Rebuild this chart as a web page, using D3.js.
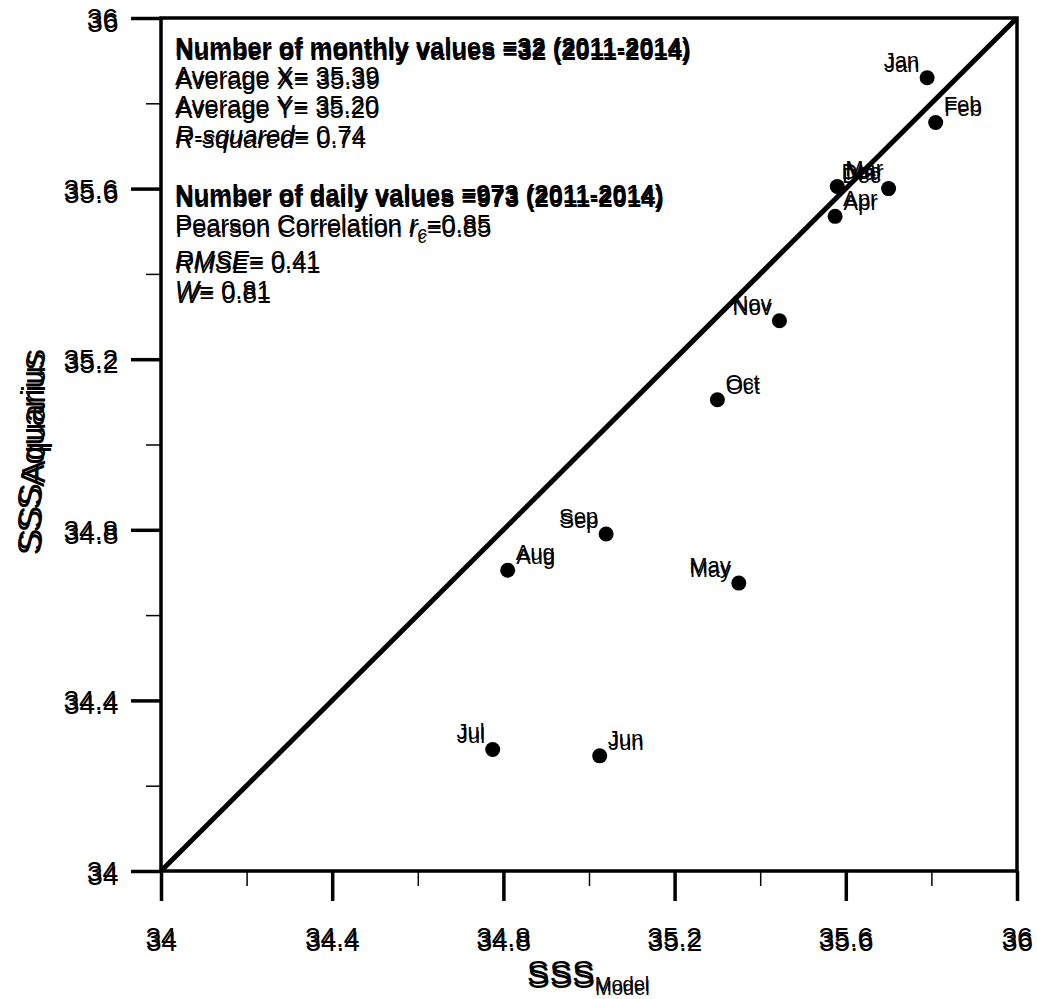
<!DOCTYPE html>
<html><head><meta charset="utf-8">
<script src="https://cdn.jsdelivr.net/npm/d3@7"></script>
<style>
html,body{margin:0;padding:0;background:#fff;}
svg text{font-family:"Liberation Sans",Arial,sans-serif;fill:#000;}
</style></head>
<body>
<svg id="chart" width="1037" height="999"></svg>
<script>
// ---- data ----
const months = ["Jan","Feb","Mar","Apr","May","Jun","Jul","Aug","Sep","Oct","Nov","Dec"];
const sssModel = [35.79, 35.81, 35.58, 35.575, 35.35, 35.025, 34.775, 34.81, 35.04, 35.30, 35.445, 35.70];
const sssAquarius = [35.86, 35.755, 35.605, 35.535, 34.675, 34.27, 34.285, 34.705, 34.79, 35.105, 35.29, 35.60];
const labelAnchor = ["end","start","start","start","end","start","end","start","end","start","end","end"];
const majorTicks = [34, 34.4, 34.8, 35.2, 35.6, 36];
const minorTicks = [34.2, 34.6, 35.0, 35.4, 35.8];
const tickLabels = ["34","34.4","34.8","35.2","35.6","36"];
const statsMonthly = {n:32, period:"2011-2014", avgX:"35.39", avgY:"35.20", r2:"0.74"};
const statsDaily = {n:973, period:"2011-2014", rc:"0.85", rmse:"0.41", w:"0.81"};

const svg = d3.select("#chart");
const L=161, R=1017, T=18, B=871;
const x = d3.scaleLinear().domain([34,36]).range([L,R]);
const y = d3.scaleLinear().domain([34,36]).range([B,T]);

// the reference shows every text drawn twice, slightly offset
function dtext(g, px, py, build, opts={}) {
  const d1 = opts.d1 ?? [0,-2], d2 = opts.d2 ?? [0.5,2];
  [d1,d2].forEach(([ox,oy])=>{
    const t = g.append("text").attr("x",px+ox).attr("y",py+oy);
    if (opts.anchor) t.attr("text-anchor",opts.anchor);
    if (opts.size) t.attr("font-size",opts.size);
    if (opts.weight) t.attr("font-weight",opts.weight);
    if (opts.transform) t.attr("transform",opts.transform);
    build(t);
  });
}

// diagonal 1:1 line
svg.append("line").attr("x1",x(34)).attr("y1",y(34)).attr("x2",x(36)).attr("y2",y(36))
  .attr("stroke","#000").attr("stroke-width",5);

// frame
svg.append("rect").attr("x",L).attr("y",T).attr("width",R-L).attr("height",B-T)
  .attr("fill","none").attr("stroke","#000").attr("stroke-width",3.5);

// axes
const xMaj = svg.append("g").attr("transform",`translate(0,${B})`)
  .call(d3.axisBottom(x).tickValues(majorTicks).tickSize(30).tickFormat(""));
const xMin = svg.append("g").attr("transform",`translate(0,${B})`)
  .call(d3.axisBottom(x).tickValues(minorTicks).tickSize(15).tickFormat(""));
const yMaj = svg.append("g").attr("transform",`translate(${L},0)`)
  .call(d3.axisLeft(y).tickValues(majorTicks).tickSize(30).tickFormat(""));
const yMin = svg.append("g").attr("transform",`translate(${L},0)`)
  .call(d3.axisLeft(y).tickValues(minorTicks).tickSize(15).tickFormat(""));
[xMaj,yMaj].forEach(g=>{g.select(".domain").remove(); g.selectAll(".tick line").attr("stroke","#000").attr("stroke-width",3.5);});
[xMin,yMin].forEach(g=>{g.select(".domain").remove(); g.selectAll(".tick line").attr("stroke","#000").attr("stroke-width",1.5);});

// tick labels
const lab = svg.append("g");
majorTicks.forEach((v,i)=>{
  dtext(lab, x(v), 949, t=>t.text(tickLabels[i]), {anchor:"middle", size:28});
  dtext(lab, 118, y(v)+12, t=>t.text(tickLabels[i]), {anchor:"end", size:28});
});

// axis titles
dtext(svg, 588, 986, t=>{
  t.append("tspan").attr("font-size",34).text("SSS");
  t.append("tspan").attr("font-size",20).attr("dy",7).text("Model");
}, {anchor:"middle"});
dtext(svg, 0, 0, t=>{
  t.append("tspan").attr("font-size",34).text("SSS");
  t.append("tspan").attr("font-size",34).attr("dy",3).text("Aquarius");
}, {anchor:"middle", d1:[-2,0], d2:[2,0.5], transform:"translate(41,452) rotate(-90)"});

// points
const pts = svg.append("g");
months.forEach((m,i)=>{
  pts.append("circle").attr("cx",x(sssModel[i])).attr("cy",y(sssAquarius[i])).attr("r",7.5).attr("fill","#000");
  const a = labelAnchor[i];
  const off = a==="end" ? -8 : 8;
  dtext(pts, x(sssModel[i])+off, y(sssAquarius[i])-8, t=>t.text(m), {anchor:a, size:22});
});

// statistics text
const st = svg.append("g");
const sx = 175, fs = 25.5;
dtext(st, sx, 58, t=>t.text(`Number of monthly values =${statsMonthly.n} (${statsMonthly.period})`), {size:fs, weight:"bold"});
dtext(st, sx, 87, t=>t.text(`Average X= ${statsMonthly.avgX}`), {size:fs});
dtext(st, sx, 116, t=>t.text(`Average Y= ${statsMonthly.avgY}`), {size:fs});
dtext(st, sx, 146, t=>{t.append("tspan").attr("font-style","italic").text("R-squared"); t.append("tspan").text(`= ${statsMonthly.r2}`);}, {size:fs});
dtext(st, sx, 205, t=>t.text(`Number of daily values =${statsDaily.n} (${statsDaily.period})`), {size:fs, weight:"bold"});
dtext(st, sx, 235, t=>{
  t.append("tspan").text("Pearson Correlation ");
  t.append("tspan").attr("font-style","italic").text("r");
  t.append("tspan").attr("font-style","italic").attr("font-size",18).attr("dy",6).text("c");
  t.append("tspan").attr("dy",-6).text(`=${statsDaily.rc}`);
}, {size:fs});
dtext(st, sx, 271, t=>{t.append("tspan").attr("font-style","italic").text("RMSE"); t.append("tspan").text(`= ${statsDaily.rmse}`);}, {size:fs});
dtext(st, sx, 301, t=>{t.append("tspan").attr("font-style","italic").text("W"); t.append("tspan").text(`= ${statsDaily.w}`);}, {size:fs});
</script>
</body></html>
